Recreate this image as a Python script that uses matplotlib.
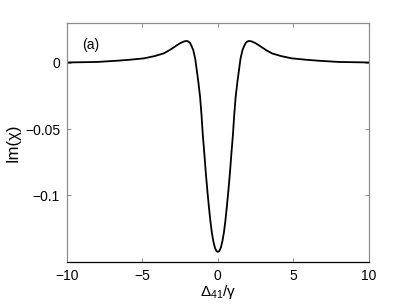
import matplotlib
matplotlib.use("Agg")
import matplotlib.pyplot as plt

plt.rcParams['font.family'] = ['Liberation Sans', 'DejaVu Sans']
plt.rcParams['mathtext.fontset'] = 'custom'
plt.rcParams['mathtext.rm'] = 'Liberation Sans'
plt.rcParams['mathtext.it'] = 'Liberation Sans'

# values (detuning, Im(chi))
detuning = [-10, -8, -6.7, -5.9, -4.9, -4.2, -3.6, -3.2, -2.7, -2.5, -2.3, -2.2,
            -2.07, -1.95, -1.85, -1.75, -1.63, -1.5, -1.4, -1.3, -1.18, -1.08,
            -1.0, -0.9, -0.8, -0.7, -0.6, -0.5, -0.4, -0.3, -0.2, -0.1, 0,
            0.1, 0.2, 0.3, 0.4, 0.5, 0.6, 0.7, 0.8, 0.9, 1.0, 1.08, 1.18, 1.3,
            1.4, 1.5, 1.63, 1.75, 1.85, 1.95, 2.07, 2.2, 2.3, 2.5, 2.7, 3.2,
            3.6, 4.2, 4.9, 5.9, 6.7, 8, 10]
im_chi = [0.0002, 0.0006, 0.0015, 0.0022, 0.0033, 0.0050, 0.0070, 0.0095, 0.0133,
          0.0147, 0.0158, 0.0162, 0.0164, 0.0160, 0.0150, 0.0128, 0.0095, 0.0030,
          -0.0055, -0.0140, -0.0256, -0.0400, -0.0540, -0.0680, -0.0830, -0.0960,
          -0.1080, -0.1190, -0.1280, -0.1346, -0.1393, -0.1419, -0.1426,
          -0.1419, -0.1393, -0.1346, -0.1280, -0.1190, -0.1080, -0.0960, -0.0830,
          -0.0680, -0.0540, -0.0400, -0.0256, -0.0140, -0.0055, 0.0030, 0.0095,
          0.0128, 0.0150, 0.0160, 0.0164, 0.0162, 0.0158, 0.0147, 0.0133, 0.0095,
          0.0070, 0.0050, 0.0033, 0.0022, 0.0015, 0.0006, 0.0002]

xticks = [-10, -5, 0, 5, 10]
yticks = [-0.1, -0.05, 0]
ytick_labels = ['\u22120.1', '\u22120.05', '0']
xtick_labels = ['\u221210', '\u22125', '0', '5', '10']

fig = plt.figure(figsize=(4.07, 3.06), dpi=100)
ax = fig.add_axes([0.1646, 0.1448, 0.906 - 0.1646, 0.925 - 0.1448])

ax.plot(detuning, im_chi, color='black', lw=1.3)

ax.set_xlim(-10, 10)
ax.set_ylim(-0.15, 0.03)
ax.set_xticks(xticks)
ax.set_xticklabels(xtick_labels)
ax.set_yticks(yticks)
ax.set_yticklabels(ytick_labels)

gray = '#8c8c8c'
for side in ['left', 'top', 'right']:
    ax.spines[side].set_color(gray)
ax.spines['bottom'].set_color('black')
for s in ax.spines.values():
    s.set_linewidth(0.9)

ax.tick_params(direction='in', length=3, width=0.7, color=gray,
               top=True, right=True, labelsize=10, pad=5)

ax.set_xlabel(r'$\Delta_{41}/\gamma$', fontsize=11, labelpad=0)
ax.set_ylabel('Im(\u03c7)', fontsize=12, labelpad=3)
ax.text(-8.45, 0.0135, '(a)', fontsize=10, ha='center', va='center')

fig.savefig('out.png', dpi=100)
